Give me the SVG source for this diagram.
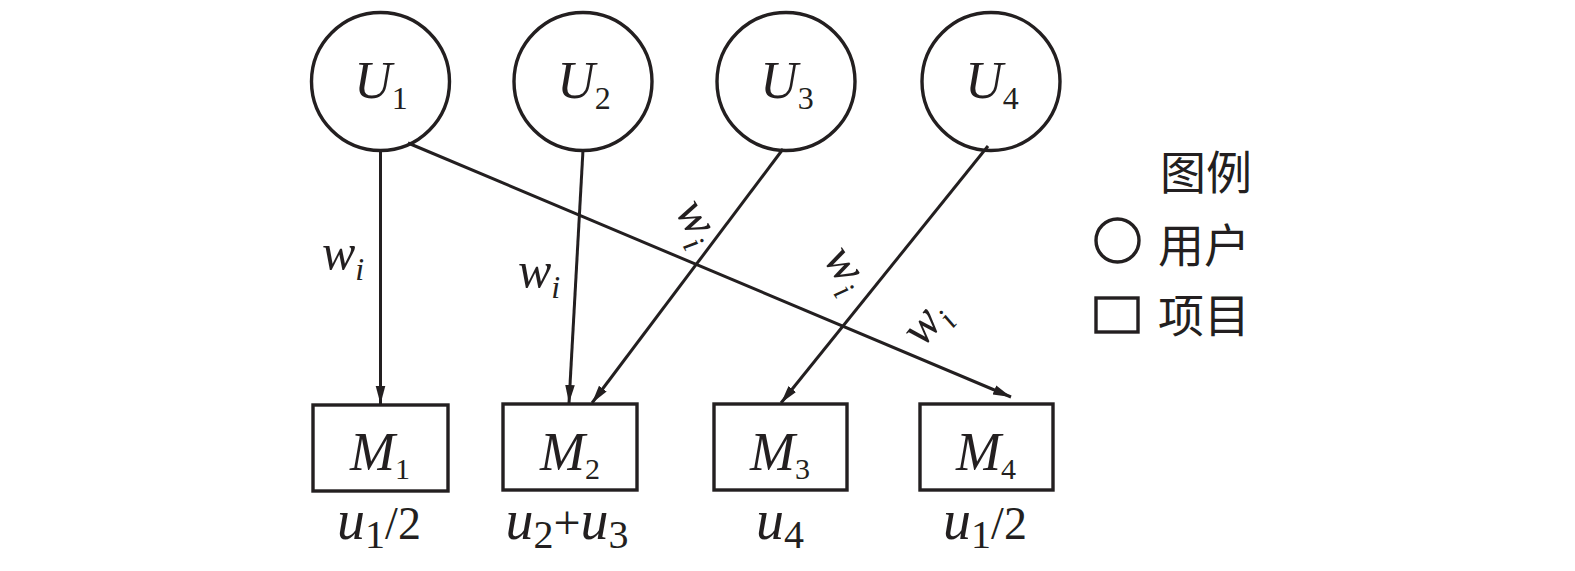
<svg xmlns="http://www.w3.org/2000/svg" width="1575" height="571" viewBox="0 0 1575 571">
<style>
.node{fill:none;stroke:#231f20;stroke-width:3.4}
.edge{fill:none;stroke:#231f20;stroke-width:3}
.tx{font-family:'Liberation Serif','Times New Roman',serif;fill:#231f20}
.it{font-style:italic}
.cjk{font-family:'Noto Sans CJK SC','Noto Sans CJK JP',sans-serif;font-size:46px;fill:#231f20}
</style>
<defs>
<marker id="arr" markerUnits="userSpaceOnUse" markerWidth="20" markerHeight="12" refX="18" refY="6" orient="auto">
<path d="M0,1.2 L18,6 L0,10.8 z" fill="#231f20"/>
</marker>
</defs>
<rect width="1575" height="571" fill="#fff"/>
<g id="connectors">
<line class="edge" x1="380.5" y1="150" x2="380.5" y2="404" marker-end="url(#arr)"/>
<line class="edge" x1="583" y1="150" x2="569" y2="403" marker-end="url(#arr)"/>
<line class="edge" x1="783" y1="149" x2="592" y2="403" marker-end="url(#arr)"/>
<line class="edge" x1="988" y1="146" x2="781" y2="403" marker-end="url(#arr)"/>
<line class="edge" x1="408" y1="143" x2="1011" y2="397" marker-end="url(#arr)"/>
</g>
<g id="edge-labels" class="tx">
<text class="tx it" x="322" y="269"><tspan font-size="50">w</tspan><tspan font-size="32" dy="11">i</tspan></text>
<text class="tx it" x="518" y="287"><tspan font-size="50">w</tspan><tspan font-size="32" dy="11">i</tspan></text>
<text class="tx it" transform="translate(692,225) rotate(59)" x="0" y="8" text-anchor="middle"><tspan font-size="50">w</tspan><tspan font-size="32" dy="11">i</tspan></text>
<text class="tx it" transform="translate(841,272) rotate(55)" x="0" y="8" text-anchor="middle"><tspan font-size="50">w</tspan><tspan font-size="32" dy="11">i</tspan></text>
<text class="tx it" transform="translate(930,327) rotate(-51)" x="0" y="8" text-anchor="middle"><tspan font-size="50">w</tspan><tspan font-size="32" dy="11">i</tspan></text>
</g>
<g id="U1"><circle class="node" cx="380.5" cy="81.5" r="69"/><text class="tx" x="381" y="98" text-anchor="middle"><tspan class="it" font-size="52">U</tspan><tspan font-size="32" dy="11">1</tspan></text></g>
<g id="U2"><circle class="node" cx="583" cy="81.5" r="69"/><text class="tx" x="584" y="98" text-anchor="middle"><tspan class="it" font-size="52">U</tspan><tspan font-size="32" dy="11">2</tspan></text></g>
<g id="U3"><circle class="node" cx="786" cy="81.5" r="69"/><text class="tx" x="787" y="98" text-anchor="middle"><tspan class="it" font-size="52">U</tspan><tspan font-size="32" dy="11">3</tspan></text></g>
<g id="U4"><circle class="node" cx="991" cy="81.5" r="69"/><text class="tx" x="992" y="98" text-anchor="middle"><tspan class="it" font-size="52">U</tspan><tspan font-size="32" dy="11">4</tspan></text></g>
<g id="M1"><rect class="node" x="313" y="405" width="135" height="86"/><text class="tx" x="380" y="470" text-anchor="middle"><tspan class="it" font-size="54">M</tspan><tspan font-size="30" dy="9">1</tspan></text>
<text class="tx" x="379" y="539" text-anchor="middle"><tspan class="it" font-size="56">u</tspan><tspan font-size="40" dy="9">1</tspan><tspan font-size="46" dy="-9">/2</tspan></text></g>
<g id="M2"><rect class="node" x="503" y="404" width="134" height="86"/><text class="tx" x="570" y="470" text-anchor="middle"><tspan class="it" font-size="54">M</tspan><tspan font-size="30" dy="9">2</tspan></text>
<text class="tx" x="567" y="539" text-anchor="middle"><tspan class="it" font-size="56">u</tspan><tspan font-size="40" dy="9">2</tspan><tspan font-size="48" dy="-9">+</tspan><tspan class="it" font-size="56">u</tspan><tspan font-size="40" dy="9">3</tspan></text></g>
<g id="M3"><rect class="node" x="714" y="404" width="133" height="86"/><text class="tx" x="780" y="470" text-anchor="middle"><tspan class="it" font-size="54">M</tspan><tspan font-size="30" dy="9">3</tspan></text>
<text class="tx" x="780" y="539" text-anchor="middle"><tspan class="it" font-size="56">u</tspan><tspan font-size="40" dy="9">4</tspan></text></g>
<g id="M4"><rect class="node" x="920" y="404" width="133" height="86"/><text class="tx" x="986" y="470" text-anchor="middle"><tspan class="it" font-size="54">M</tspan><tspan font-size="30" dy="9">4</tspan></text>
<text class="tx" x="985" y="539" text-anchor="middle"><tspan class="it" font-size="56">u</tspan><tspan font-size="40" dy="9">1</tspan><tspan font-size="46" dy="-9">/2</tspan></text></g>
<g id="legend">
<text class="cjk" x="1160" y="189">图例</text>
<circle class="node" cx="1117.5" cy="240.5" r="21.5"/>
<text class="cjk" x="1158" y="262">用户</text>
<rect class="node" x="1096" y="298" width="42" height="34"/>
<text class="cjk" x="1158" y="332">项目</text>
</g>
</svg>
